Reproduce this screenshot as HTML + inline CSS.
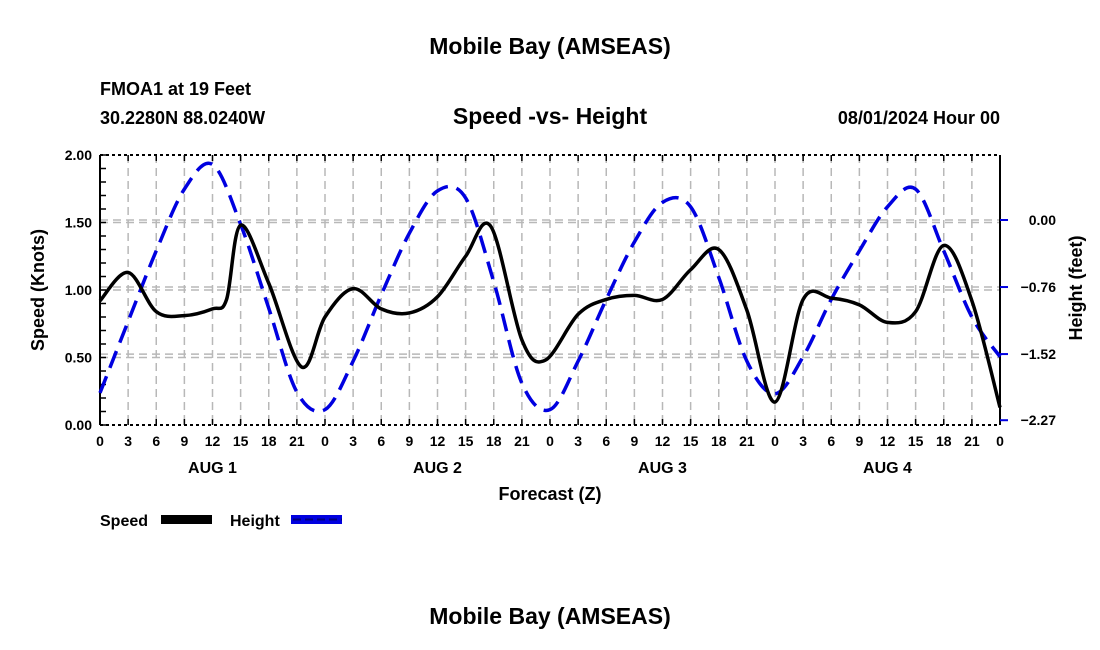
<!DOCTYPE html>
<html><head><meta charset="utf-8"><style>
body{margin:0;background:#fff;}
svg{display:block;font-family:"Liberation Sans",Arial,sans-serif;font-weight:bold;}
</style></head><body>
<svg id="c" width="1100" height="650" viewBox="0 0 1100 650">
<text x="550" y="54" font-size="23" text-anchor="middle">Mobile Bay (AMSEAS)</text>
<text x="100" y="95" font-size="18">FMOA1 at 19 Feet</text>
<text x="100" y="124" font-size="18">30.2280N  88.0240W</text>
<text x="550" y="124" font-size="23" text-anchor="middle">Speed -vs- Height</text>
<text x="1000" y="124" font-size="18" text-anchor="end">08/01/2024 Hour 00</text>
<g id="grid"></g>
<g id="axes"></g>
<g id="series"></g>
<text x="550" y="500" font-size="18" text-anchor="middle">Forecast (Z)</text>
<text transform="translate(44,290) rotate(-90)" font-size="18" text-anchor="middle">Speed (Knots)</text>
<text transform="translate(1082,288) rotate(-90)" font-size="18" text-anchor="middle">Height (feet)</text>
<g>
<text x="100" y="526" font-size="16">Speed</text>
<rect x="161" y="515" width="51" height="9" fill="#000"/>
<text x="230" y="526" font-size="16">Height</text>
<rect x="291" y="515" width="51" height="9" fill="#0000e0"/>
<line x1="293" y1="519.5" x2="342" y2="519.5" stroke="#000080" stroke-width="2" stroke-dasharray="8,4"/>
</g>
<text x="550" y="624" font-size="23" text-anchor="middle">Mobile Bay (AMSEAS)</text>
</svg>
<script>
const speedHours=[0,3,6,9,12,13.5,15,18,21.5,24,27,30,33,36,39,41.7,45,47.5,51,54,57,60,63,66,69,72,75,78,81,84,87,90,93,96];
const speed=[0.92,1.13,0.84,0.81,0.86,0.93,1.48,1.05,0.43,0.80,1.01,0.86,0.83,0.95,1.25,1.47,0.63,0.48,0.82,0.93,0.96,0.93,1.15,1.30,0.85,0.17,0.93,0.94,0.89,0.76,0.84,1.33,0.92,0.13];
const heightHours=[0,3,6,9,12,15,18,21,24,27,30,33,36,39,42,45,48,51,54,57,60,63,66,69,72,75,78,81,84,87,90,93,96];
const height=[-1.96,-1.15,-0.35,0.35,0.63,-0.05,-1.0,-1.95,-2.15,-1.6,-0.85,-0.15,0.33,0.25,-0.7,-1.85,-2.15,-1.6,-0.9,-0.25,0.2,0.15,-0.65,-1.6,-1.97,-1.55,-0.9,-0.35,0.15,0.35,-0.35,-1.1,-1.55];
const speedTicks=["0.00","0.50","1.00","1.50","2.00"];
const heightTicks=["0.00","-0.76","-1.52","-2.27"];
const hourLabels=["0","3","6","9","12","15","18","21"];
const dayLabels=["AUG 1","AUG 2","AUG 3","AUG 4"];
const X0=100,X1=1000,YT=155,YB=425;
const xS=h=>X0+(X1-X0)*h/96;
const yS=s=>YB-(YB-YT)*s/2;
function yHt(v){return 220-(v)*88.2;}
const NS="http://www.w3.org/2000/svg";
function mk(tag,attrs,parent){const e=document.createElementNS(NS,tag);for(const k in attrs)e.setAttribute(k,attrs[k]);parent.appendChild(e);return e;}
const grid=document.getElementById('grid'),axes=document.getElementById('axes'),series=document.getElementById('series');
for(let h=3;h<96;h+=3){const l=mk('line',{x1:xS(h),x2:xS(h),y1:YT,y2:YB,stroke:'#b8b8b8','stroke-width':1.5,'stroke-dasharray':'8,5'},grid);

}
for(let i=1;i<4;i++){const y=yS(i*0.5);const l=mk('line',{x1:X0,x2:X1,y1:y,y2:y,stroke:'#b8b8b8','stroke-width':1.5,'stroke-dasharray':'8,5'},grid);

}
heightTicks.forEach(t=>{const y=yHt(parseFloat(t));if(y>YB-5)return;const l=mk('line',{x1:X0,x2:X1,y1:y,y2:y,stroke:'#b8b8b8','stroke-width':1.5,'stroke-dasharray':'8,5'},grid);

});
mk('line',{x1:X0,x2:X0,y1:YT,y2:YB,stroke:'#000','stroke-width':2},axes);
mk('line',{x1:X1,x2:X1,y1:YT,y2:YB,stroke:'#000','stroke-width':2},axes);
mk('line',{x1:X0,x2:X1,y1:YT,y2:YT,stroke:'#000','stroke-width':2,'stroke-dasharray':'3,3'},axes);
mk('line',{x1:X0,x2:X1,y1:YB,y2:YB,stroke:'#000','stroke-width':2,'stroke-dasharray':'3,3'},axes);
for(let h=0;h<=96;h+=3){const x=xS(h);
mk('line',{x1:x,x2:x,y1:YB,y2:YB-6,stroke:'#000','stroke-width':1.5},axes);
mk('line',{x1:x,x2:x,y1:YT,y2:YT+6,stroke:'#000','stroke-width':1.5},axes);
const t=mk('text',{x:x,y:YB+21,'font-size':14,'text-anchor':'middle'},axes);t.textContent=hourLabels[(h/3)%8];

}
dayLabels.forEach((d,i)=>{const t=mk('text',{x:xS(i*24+12),y:YB+48,'font-size':16,'text-anchor':'middle'},axes);t.textContent=d;

});
for(let v=0;v<=2.0001;v+=0.1){const y=yS(v);mk('line',{x1:X0,x2:X0+6,y1:y,y2:y,stroke:'#000','stroke-width':1.5},axes);}
speedTicks.forEach(s=>{const t=mk('text',{x:X0-8,y:yS(parseFloat(s))+5,'font-size':14,'text-anchor':'end'},axes);t.textContent=s;

});
heightTicks.forEach(s=>{const y=yHt(parseFloat(s));mk('line',{x1:X1,x2:X1+8,y1:y,y2:y,stroke:'#0000e0','stroke-width':2},axes);
const t=mk('text',{x:X1+56,y:y+5,'font-size':14,'text-anchor':'end'},axes);t.textContent=s.replace('-','\u2212');

});
function path(pts){let d='M'+pts[0][0]+','+pts[0][1];for(let i=0;i<pts.length-1;i++){const p0=pts[i-1]||pts[i],p1=pts[i],p2=pts[i+1],p3=pts[i+2]||p2;
d+=' C'+(p1[0]+(p2[0]-p0[0])/6)+','+(p1[1]+(p2[1]-p0[1])/6)+' '+(p2[0]-(p3[0]-p1[0])/6)+','+(p2[1]-(p3[1]-p1[1])/6)+' '+p2[0]+','+p2[1];}return d;}
const hp=mk('path',{d:path(heightHours.map((h,i)=>[xS(h),yHt(height[i])])),fill:'none',stroke:'#0000e0','stroke-width':3.5,'stroke-dasharray':'18,9'},series);


const sp=mk('path',{d:path(speedHours.map((h,i)=>[xS(h),yS(speed[i])])),fill:'none',stroke:'#000','stroke-width':3.5},series);


</script>
</body></html>
